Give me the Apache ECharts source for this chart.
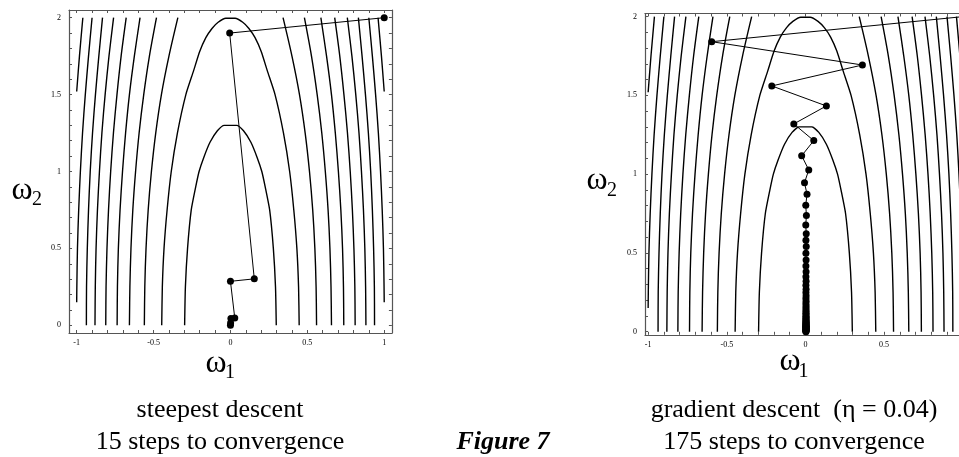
<!DOCTYPE html>
<html>
<head>
<meta charset="utf-8">
<title>Figure 7</title>
<script src="https://cdn.jsdelivr.net/npm/echarts@6/dist/echarts.min.js"></script>
<style>
  html, body { margin: 0; padding: 0; background: #fff; }
  #chart { width: 959px; height: 457px; }
</style>
</head>
<body>
<div id="chart"></div>
<script>
// contour half-widths (w1 >= 0) read at these w2 levels
const contourY = [0, 0.25, 0.5, 0.75, 1, 1.25, 1.5, 1.75, 2]
const openContours = [
  [0.56, 0.557, 0.549, 0.535, 0.514, 0.486, 0.449, 0.4, 0.342],
  [0.657, 0.654, 0.647, 0.635, 0.617, 0.594, 0.564, 0.527, 0.481],
  [0.737, 0.735, 0.729, 0.718, 0.702, 0.682, 0.657, 0.625, 0.588],
  [0.811, 0.809, 0.803, 0.793, 0.779, 0.761, 0.738, 0.711, 0.678],
  [0.881, 0.879, 0.874, 0.865, 0.852, 0.836, 0.815, 0.79, 0.76],
  [0.937, 0.936, 0.931, 0.923, 0.912, 0.897, 0.878, 0.856, 0.832]
]
// contours that leave the plotted region at w1 = ±1
const edgeContours = [
  [[1, 0.15], [0.999, 0.25], [0.995, 0.5], [0.987, 0.75], [0.976, 1], [0.962, 1.25], [0.944, 1.5], [0.923, 1.75], [0.9, 2]],
  [[1, 1.52], [0.982, 1.75], [0.96, 2]]
]
// closed contours, right half from bottom to the flat top
const innerContour = [[0.298, 0], [0.293, 0.25], [0.279, 0.5], [0.255, 0.75], [0.226, 0.9], [0.204, 1], [0.174, 1.09], [0.133, 1.19], [0.085, 1.265], [0.04, 1.3]]
const outerContour = [[0.447, 0], [0.443, 0.25], [0.432, 0.5], [0.412, 0.75], [0.385, 1], [0.345, 1.25], [0.29, 1.5], [0.24, 1.654], [0.2, 1.78], [0.16, 1.87], [0.12, 1.93], [0.08, 1.97], [0.03, 1.996]]

// steepest descent path
const steepX = [1, -0.005, 0.155, 0, 0.028, 0.003, 0.001, 0]
const steepY = [2, 1.9, 0.302, 0.286, 0.048, 0.045, 0.015, 0]

// gradient descent path (eta = 0.04)
const gradX = [1, -0.596, 0.362, -0.214, 0.133, -0.074, 0.053, -0.024, 0.021, -0.006, 0.01,
  0.002, 0.006, 0.002, 0.005, 0.003, 0.005, 0.003, 0.004, 0.003, 0.004,
  0.003, 0.004, 0.003, 0.004, 0.003, 0.004, 0.003, 0.004, 0.003, 0.004,
  0.003, 0.004, 0.003, 0.004, 0.003, 0.004, 0.003, 0.004, 0.003, 0.004,
  0.003, 0.004, 0.003, 0.004, 0.003, 0.004, 0.003, 0.004, 0.003, 0.004,
  0.003, 0.004, 0.003, 0.004, 0.003, 0.004, 0.003, 0.004, 0.003, 0.003]
const gradY = [2, 1.841, 1.693, 1.56, 1.433, 1.319, 1.213, 1.117, 1.027, 0.946, 0.872,
  0.803, 0.737, 0.677, 0.622, 0.58, 0.54, 0.498, 0.455, 0.417, 0.381,
  0.349, 0.32, 0.294, 0.27, 0.248, 0.228, 0.21, 0.193, 0.177, 0.163,
  0.15, 0.138, 0.127, 0.117, 0.107, 0.098, 0.09, 0.083, 0.076, 0.07,
  0.064, 0.059, 0.054, 0.05, 0.046, 0.042, 0.038, 0.035, 0.032, 0.029,
  0.026, 0.023, 0.02, 0.017, 0.014, 0.011, 0.008, 0.005, 0.002, 0]

// ticks
const xTicks = [-1, -0.9, -0.8, -0.7, -0.6, -0.5, -0.4, -0.3, -0.2, -0.1, 0, 0.1, 0.2, 0.3, 0.4, 0.5, 0.6, 0.7, 0.8, 0.9, 1]
const yTicks = [0, 0.1, 0.2, 0.3, 0.4, 0.5, 0.6, 0.7, 0.8, 0.9, 1, 1.1, 1.2, 1.3, 1.4, 1.5, 1.6, 1.7, 1.8, 1.9, 2]
const xLabels = [-1, -0.5, 0, 0.5, 1]
const yLabels = [0, 0.5, 1, 1.5, 2]

const serif = '"Liberation Serif", "Times New Roman", serif'
const frameColor = '#555'

const mirror = pts => pts.map(p => [-p[0], p[1]])

function contourSeries (gi) {
  const base = {
    type: 'line',
    xAxisIndex: gi * 2,
    yAxisIndex: gi * 2,
    symbol: 'none',
    smooth: 0.3,
    silent: true,
    lineStyle: { color: '#000', width: 1.4 }
  }
  const list = []
  openContours.forEach(w => {
    const right = w.map((x, i) => [x, contourY[i]])
    list.push({ ...base, data: right })
    list.push({ ...base, data: mirror(right) })
  })
  edgeContours.forEach(pts => {
    list.push({ ...base, data: pts })
    list.push({ ...base, data: mirror(pts) })
  })
  ;[innerContour, outerContour].forEach(half => {
    const full = mirror(half).concat(half.slice().reverse())
    list.push({ ...base, smooth: 0.2, data: full })
  })
  return list
}

function pathSeries (gi, xs, ys) {
  return {
    type: 'line',
    xAxisIndex: gi * 2,
    yAxisIndex: gi * 2,
    z: 5,
    symbol: 'circle',
    symbolSize: 7,
    showAllSymbol: true,
    itemStyle: { color: '#000' },
    lineStyle: { color: '#000', width: 1 },
    data: xs.map((x, i) => [x, ys[i]])
  }
}

function axes (gi, xr, yr) {
  const line = { show: true, onZero: false, lineStyle: { color: frameColor, width: 1.2 } }
  const tick = vals => ({ show: true, inside: true, length: 3, customValues: vals, lineStyle: { color: frameColor, width: 1 } })
  const label = (vals, margin) => ({ show: true, customValues: vals, fontFamily: serif, fontSize: 8, color: '#000', margin })
  const common = { type: 'value', gridIndex: gi, splitLine: { show: false }, axisLine: line }
  return {
    x: [
      { ...common, min: xr[0], max: xr[1], position: 'bottom', axisTick: tick(xTicks), axisLabel: label(xLabels, 6) },
      { ...common, min: xr[0], max: xr[1], position: 'top', axisTick: tick(xTicks), axisLabel: { show: false } }
    ],
    y: [
      { ...common, min: yr[0], max: yr[1], position: 'left', axisTick: tick(yTicks), axisLabel: label(yLabels, 8) },
      { ...common, min: yr[0], max: yr[1], position: 'right', axisTick: tick(yTicks), axisLabel: { show: false } }
    ]
  }
}

const left = axes(0, [-1.05, 1.05], [-0.05, 2.05])
const right = axes(1, [-1.02, 1.02], [-0.02, 2.02])

const text = (str, x, y, font, align) => ({
  type: 'text',
  silent: true,
  style: { text: str, x, y, font, fill: '#000', align: align || 'center', verticalAlign: 'middle' }
})

const options = {
  animation: false,
  backgroundColor: '#fff',
  grid: [
    { left: 69, top: 10, width: 322.9, height: 323, outerBoundsMode: 'none', containLabel: false },
    // right panel runs past the edge of the picture
    { left: 645, top: 13.5, width: 320.9, height: 321.3, outerBoundsMode: 'none', containLabel: false }
  ],
  xAxis: left.x.concat(right.x),
  yAxis: left.y.concat(right.y),
  series: [
    ...contourSeries(0),
    pathSeries(0, steepX, steepY),
    ...contourSeries(1),
    pathSeries(1, gradX, gradY)
  ],
  graphic: [
    // axis titles
    text('ω', 216, 363.5, '32px ' + serif),
    text('1', 230, 373, '20px ' + serif),
    text('ω', 22, 190.5, '32px ' + serif),
    text('2', 37, 199.5, '20px ' + serif),
    text('ω', 790, 362, '32px ' + serif),
    text('1', 803.5, 372, '20px ' + serif),
    text('ω', 597, 180.5, '32px ' + serif),
    text('2', 612, 190.5, '20px ' + serif),
    // captions
    text('steepest descent', 220, 410, '26px ' + serif),
    text('15 steps to convergence', 220, 442, '26px ' + serif),
    text('Figure 7', 503, 442, 'italic bold 26px ' + serif),
    text('gradient descent  (η = 0.04)', 794, 410, '26px ' + serif),
    text('175 steps to convergence', 794, 442, '26px ' + serif)
  ]
}

const chart = echarts.init(document.getElementById('chart'))
chart.setOption(options)
window.addEventListener('resize', function () {
  chart && chart.resize()
})
</script>
</body>
</html>
